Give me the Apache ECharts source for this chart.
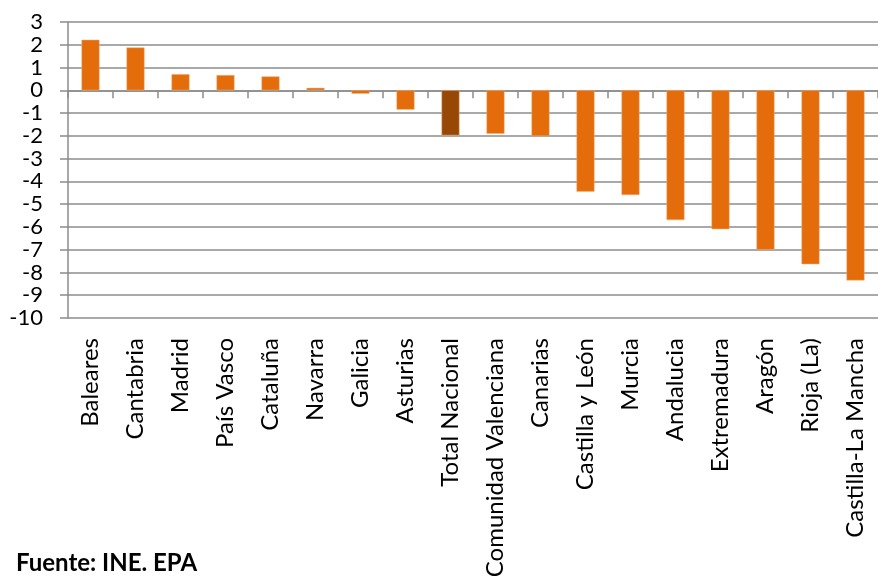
<!DOCTYPE html>
<html>
<head>
<meta charset="utf-8">
<script src="https://cdn.jsdelivr.net/npm/echarts@6/dist/echarts.min.js"></script>
<style>
html,body{margin:0;padding:0;background:#fff;}
#c{width:878px;height:583px;}
</style>
</head>
<body>
<div id="c"></div>
<script>
const categories = ["Baleares","Cantabria","Madrid","País Vasco","Cataluña","Navarra","Galicia","Asturias","Total Nacional","Comunidad Valenciana","Canarias","Castilla y León","Murcia","Andalucia","Extremadura","Aragón","Rioja (La)","Castilla-La Mancha"];
const values = [2.22, 1.88, 0.71, 0.67, 0.61, 0.11, -0.15, -0.85, -1.98, -1.91, -2.01, -4.45, -4.6, -5.7, -6.1, -7.0, -7.64, -8.35];
const highlight = "Total Nacional";
const yTicks = {min: -10, max: 3, interval: 1};
const source = "Fuente: INE. EPA";

const FONT = "Lato";
const chart = echarts.init(document.getElementById('c'), null, {renderer: 'canvas'});
chart.setOption({
  animation: false,
  grid: {left: 68, right: 0, top: 22, bottom: 265, containLabel: false},
  xAxis: [
    {
      type: 'category', data: categories, position: 'bottom',
      axisLine: {show: false, onZero: false}, axisTick: {show: false},
      axisLabel: {rotate: 90, interval: 0, margin: 20, color: '#000', fontFamily: FONT, fontSize: 24}
    },
    {
      type: 'category', data: categories, position: 'bottom',
      axisLine: {show: true, onZero: true, lineStyle: {color: '#8c8c8c', width: 1.5}},
      axisTick: {show: true, interval: 0, inside: false, length: 8, alignWithLabel: false, lineStyle: {color: '#8c8c8c', width: 1.5}},
      axisLabel: {show: false, interval: 0}
    }
  ],
  yAxis: {
    type: 'value', min: yTicks.min, max: yTicks.max, interval: yTicks.interval,
    axisLine: {show: true, lineStyle: {color: '#8c8c8c', width: 1.5}},
    axisTick: {show: true, length: 8, lineStyle: {color: '#8c8c8c', width: 1.5}},
    axisLabel: {margin: 25, color: '#000', fontFamily: FONT, fontSize: 22},
    splitLine: {show: true, lineStyle: {color: '#8c8c8c', width: 1.5}}
  },
  series: [{
    type: 'bar', xAxisIndex: 0,
    barWidth: '40%',
    data: values.map((v, i) => ({
      value: v,
      itemStyle: {color: categories[i] === highlight ? '#974806' : '#E46C0A', borderColor: '#f3b27f', borderWidth: 0.5}
    }))
  }],
  graphic: [{
    type: 'text', left: 16, top: 551,
    style: {text: source, font: 'bold 24px ' + FONT, fill: '#000'}
  }]
});
</script>
</body>
</html>
